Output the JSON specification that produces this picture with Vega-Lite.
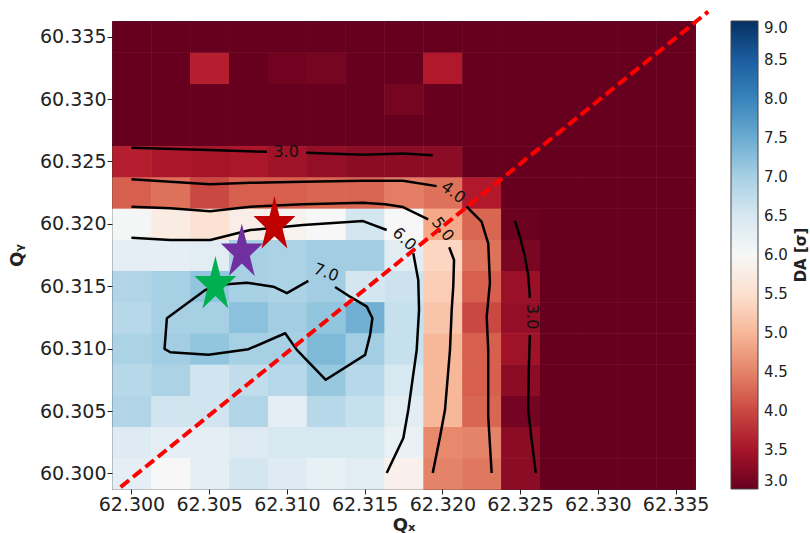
{
"$schema":"https://vega.github.io/schema/vega-lite/v6.json",
"width":583,"height":468,
"autosize":{"type":"none"},
"padding":{"left":112,"top":21,"right":115,"bottom":44},
"background":"white",
"config":{
 "view":{"stroke":"#333","strokeWidth":1},
 "font":"DejaVu Sans",
 "axis":{"grid":false,"domain":false,"tickColor":"#222","tickSize":5,"tickWidth":1,"labelFont":"DejaVu Sans","labelFontSize":19,"labelColor":"#222","labelPadding":1,"titleFont":"DejaVu Sans","titleFontSize":18,"titleFontWeight":"bold","titleColor":"#222","labelFlush":false,"labelOverlap":false}
},
"datasets":{
"grid":[
{"qx":62.3,"qy":60.335,"da":2.2},{"qx":62.3025,"qy":60.335,"da":2.2},{"qx":62.305,"qy":60.335,"da":2.2},{"qx":62.3075,"qy":60.335,"da":2.2},{"qx":62.31,"qy":60.335,"da":2.2},{"qx":62.3125,"qy":60.335,"da":2.2},{"qx":62.315,"qy":60.335,"da":2.2},{"qx":62.3175,"qy":60.335,"da":2.2},{"qx":62.32,"qy":60.335,"da":2.2},{"qx":62.3225,"qy":60.335,"da":2.2},{"qx":62.325,"qy":60.335,"da":2.2},{"qx":62.3275,"qy":60.335,"da":2.2},{"qx":62.33,"qy":60.335,"da":2.2},{"qx":62.3325,"qy":60.335,"da":2.2},{"qx":62.335,"qy":60.335,"da":2.2},
{"qx":62.3,"qy":60.3325,"da":2.2},{"qx":62.3025,"qy":60.3325,"da":2.2},{"qx":62.305,"qy":60.3325,"da":3.65},{"qx":62.3075,"qy":60.3325,"da":2.2},{"qx":62.31,"qy":60.3325,"da":3.08},{"qx":62.3125,"qy":60.3325,"da":3.12},{"qx":62.315,"qy":60.3325,"da":2.2},{"qx":62.3175,"qy":60.3325,"da":2.2},{"qx":62.32,"qy":60.3325,"da":3.6},{"qx":62.3225,"qy":60.3325,"da":2.2},{"qx":62.325,"qy":60.3325,"da":2.2},{"qx":62.3275,"qy":60.3325,"da":2.2},{"qx":62.33,"qy":60.3325,"da":2.2},{"qx":62.3325,"qy":60.3325,"da":2.2},{"qx":62.335,"qy":60.3325,"da":2.2},
{"qx":62.3,"qy":60.33,"da":2.2},{"qx":62.3025,"qy":60.33,"da":2.2},{"qx":62.305,"qy":60.33,"da":2.2},{"qx":62.3075,"qy":60.33,"da":2.2},{"qx":62.31,"qy":60.33,"da":2.2},{"qx":62.3125,"qy":60.33,"da":2.2},{"qx":62.315,"qy":60.33,"da":2.2},{"qx":62.3175,"qy":60.33,"da":3.12},{"qx":62.32,"qy":60.33,"da":2.2},{"qx":62.3225,"qy":60.33,"da":2.2},{"qx":62.325,"qy":60.33,"da":2.2},{"qx":62.3275,"qy":60.33,"da":2.2},{"qx":62.33,"qy":60.33,"da":2.2},{"qx":62.3325,"qy":60.33,"da":2.2},{"qx":62.335,"qy":60.33,"da":2.2},
{"qx":62.3,"qy":60.3275,"da":2.2},{"qx":62.3025,"qy":60.3275,"da":2.2},{"qx":62.305,"qy":60.3275,"da":2.2},{"qx":62.3075,"qy":60.3275,"da":2.2},{"qx":62.31,"qy":60.3275,"da":2.2},{"qx":62.3125,"qy":60.3275,"da":2.2},{"qx":62.315,"qy":60.3275,"da":2.2},{"qx":62.3175,"qy":60.3275,"da":2.2},{"qx":62.32,"qy":60.3275,"da":2.2},{"qx":62.3225,"qy":60.3275,"da":2.2},{"qx":62.325,"qy":60.3275,"da":2.2},{"qx":62.3275,"qy":60.3275,"da":2.2},{"qx":62.33,"qy":60.3275,"da":2.2},{"qx":62.3325,"qy":60.3275,"da":2.2},{"qx":62.335,"qy":60.3275,"da":2.2},
{"qx":62.3,"qy":60.325,"da":3.65},{"qx":62.3025,"qy":60.325,"da":3.55},{"qx":62.305,"qy":60.325,"da":3.5},{"qx":62.3075,"qy":60.325,"da":3.55},{"qx":62.31,"qy":60.325,"da":3.45},{"qx":62.3125,"qy":60.325,"da":3.35},{"qx":62.315,"qy":60.325,"da":3.3},{"qx":62.3175,"qy":60.325,"da":3.3},{"qx":62.32,"qy":60.325,"da":3.3},{"qx":62.3225,"qy":60.325,"da":2.2},{"qx":62.325,"qy":60.325,"da":2.2},{"qx":62.3275,"qy":60.325,"da":2.2},{"qx":62.33,"qy":60.325,"da":2.2},{"qx":62.3325,"qy":60.325,"da":2.2},{"qx":62.335,"qy":60.325,"da":2.2},
{"qx":62.3,"qy":60.3225,"da":4.2},{"qx":62.3025,"qy":60.3225,"da":4.35},{"qx":62.305,"qy":60.3225,"da":4.0},{"qx":62.3075,"qy":60.3225,"da":4.2},{"qx":62.31,"qy":60.3225,"da":4.2},{"qx":62.3125,"qy":60.3225,"da":4.25},{"qx":62.315,"qy":60.3225,"da":4.25},{"qx":62.3175,"qy":60.3225,"da":4.45},{"qx":62.32,"qy":60.3225,"da":4.35},{"qx":62.3225,"qy":60.3225,"da":3.6},{"qx":62.325,"qy":60.3225,"da":2.2},{"qx":62.3275,"qy":60.3225,"da":2.2},{"qx":62.33,"qy":60.3225,"da":2.2},{"qx":62.3325,"qy":60.3225,"da":2.2},{"qx":62.335,"qy":60.3225,"da":2.2},
{"qx":62.3,"qy":60.32,"da":6.05},{"qx":62.3025,"qy":60.32,"da":5.75},{"qx":62.305,"qy":60.32,"da":5.55},{"qx":62.3075,"qy":60.32,"da":5.8},{"qx":62.31,"qy":60.32,"da":5.9},{"qx":62.3125,"qy":60.32,"da":6.0},{"qx":62.315,"qy":60.32,"da":6.55},{"qx":62.3175,"qy":60.32,"da":6.0},{"qx":62.32,"qy":60.32,"da":4.85},{"qx":62.3225,"qy":60.32,"da":4.25},{"qx":62.325,"qy":60.32,"da":3.05},{"qx":62.3275,"qy":60.32,"da":2.2},{"qx":62.33,"qy":60.32,"da":2.2},{"qx":62.3325,"qy":60.32,"da":2.2},{"qx":62.335,"qy":60.32,"da":2.2},
{"qx":62.3,"qy":60.3175,"da":6.3},{"qx":62.3025,"qy":60.3175,"da":6.3},{"qx":62.305,"qy":60.3175,"da":6.35},{"qx":62.3075,"qy":60.3175,"da":7.0},{"qx":62.31,"qy":60.3175,"da":6.95},{"qx":62.3125,"qy":60.3175,"da":7.05},{"qx":62.315,"qy":60.3175,"da":7.05},{"qx":62.3175,"qy":60.3175,"da":6.35},{"qx":62.32,"qy":60.3175,"da":5.35},{"qx":62.3225,"qy":60.3175,"da":4.35},{"qx":62.325,"qy":60.3175,"da":3.15},{"qx":62.3275,"qy":60.3175,"da":2.2},{"qx":62.33,"qy":60.3175,"da":2.2},{"qx":62.3325,"qy":60.3175,"da":2.2},{"qx":62.335,"qy":60.3175,"da":2.2},
{"qx":62.3,"qy":60.315,"da":6.9},{"qx":62.3025,"qy":60.315,"da":7.0},{"qx":62.305,"qy":60.315,"da":7.2},{"qx":62.3075,"qy":60.315,"da":7.0},{"qx":62.31,"qy":60.315,"da":6.95},{"qx":62.3125,"qy":60.315,"da":7.05},{"qx":62.315,"qy":60.315,"da":6.55},{"qx":62.3175,"qy":60.315,"da":6.65},{"qx":62.32,"qy":60.315,"da":5.25},{"qx":62.3225,"qy":60.315,"da":4.2},{"qx":62.325,"qy":60.315,"da":3.4},{"qx":62.3275,"qy":60.315,"da":2.2},{"qx":62.33,"qy":60.315,"da":2.2},{"qx":62.3325,"qy":60.315,"da":2.2},{"qx":62.335,"qy":60.315,"da":2.2},
{"qx":62.3,"qy":60.3125,"da":6.85},{"qx":62.3025,"qy":60.3125,"da":7.0},{"qx":62.305,"qy":60.3125,"da":7.0},{"qx":62.3075,"qy":60.3125,"da":7.25},{"qx":62.31,"qy":60.3125,"da":7.05},{"qx":62.3125,"qy":60.3125,"da":7.2},{"qx":62.315,"qy":60.3125,"da":7.45},{"qx":62.3175,"qy":60.3125,"da":6.7},{"qx":62.32,"qy":60.3125,"da":5.15},{"qx":62.3225,"qy":60.3125,"da":4.0},{"qx":62.325,"qy":60.3125,"da":3.35},{"qx":62.3275,"qy":60.3125,"da":2.2},{"qx":62.33,"qy":60.3125,"da":2.2},{"qx":62.3325,"qy":60.3125,"da":2.2},{"qx":62.335,"qy":60.3125,"da":2.2},
{"qx":62.3,"qy":60.31,"da":6.95},{"qx":62.3025,"qy":60.31,"da":7.05},{"qx":62.305,"qy":60.31,"da":7.2},{"qx":62.3075,"qy":60.31,"da":7.0},{"qx":62.31,"qy":60.31,"da":7.0},{"qx":62.3125,"qy":60.31,"da":7.35},{"qx":62.315,"qy":60.31,"da":7.05},{"qx":62.3175,"qy":60.31,"da":6.7},{"qx":62.32,"qy":60.31,"da":5.0},{"qx":62.3225,"qy":60.31,"da":4.2},{"qx":62.325,"qy":60.31,"da":3.45},{"qx":62.3275,"qy":60.31,"da":2.2},{"qx":62.33,"qy":60.31,"da":2.2},{"qx":62.3325,"qy":60.31,"da":2.2},{"qx":62.335,"qy":60.31,"da":2.2},
{"qx":62.3,"qy":60.3075,"da":6.85},{"qx":62.3025,"qy":60.3075,"da":6.95},{"qx":62.305,"qy":60.3075,"da":6.6},{"qx":62.3075,"qy":60.3075,"da":6.75},{"qx":62.31,"qy":60.3075,"da":6.85},{"qx":62.3125,"qy":60.3075,"da":7.15},{"qx":62.315,"qy":60.3075,"da":6.85},{"qx":62.3175,"qy":60.3075,"da":6.5},{"qx":62.32,"qy":60.3075,"da":5.0},{"qx":62.3225,"qy":60.3075,"da":4.2},{"qx":62.325,"qy":60.3075,"da":3.3},{"qx":62.3275,"qy":60.3075,"da":2.2},{"qx":62.33,"qy":60.3075,"da":2.2},{"qx":62.3325,"qy":60.3075,"da":2.2},{"qx":62.335,"qy":60.3075,"da":2.2},
{"qx":62.3,"qy":60.305,"da":6.9},{"qx":62.3025,"qy":60.305,"da":6.6},{"qx":62.305,"qy":60.305,"da":6.6},{"qx":62.3075,"qy":60.305,"da":6.9},{"qx":62.31,"qy":60.305,"da":6.3},{"qx":62.3125,"qy":60.305,"da":6.85},{"qx":62.315,"qy":60.305,"da":6.7},{"qx":62.3175,"qy":60.305,"da":6.35},{"qx":62.32,"qy":60.305,"da":5.0},{"qx":62.3225,"qy":60.305,"da":4.25},{"qx":62.325,"qy":60.305,"da":3.1},{"qx":62.3275,"qy":60.305,"da":2.2},{"qx":62.33,"qy":60.305,"da":2.2},{"qx":62.3325,"qy":60.305,"da":2.2},{"qx":62.335,"qy":60.305,"da":2.2},
{"qx":62.3,"qy":60.3025,"da":6.4},{"qx":62.3025,"qy":60.3025,"da":6.3},{"qx":62.305,"qy":60.3025,"da":6.3},{"qx":62.3075,"qy":60.3025,"da":6.4},{"qx":62.31,"qy":60.3025,"da":6.5},{"qx":62.3125,"qy":60.3025,"da":6.5},{"qx":62.315,"qy":60.3025,"da":6.5},{"qx":62.3175,"qy":60.3025,"da":6.2},{"qx":62.32,"qy":60.3025,"da":4.55},{"qx":62.3225,"qy":60.3025,"da":4.5},{"qx":62.325,"qy":60.3025,"da":3.3},{"qx":62.3275,"qy":60.3025,"da":2.2},{"qx":62.33,"qy":60.3025,"da":2.2},{"qx":62.3325,"qy":60.3025,"da":2.2},{"qx":62.335,"qy":60.3025,"da":2.2},
{"qx":62.3,"qy":60.3,"da":6.3},{"qx":62.3025,"qy":60.3,"da":6.0},{"qx":62.305,"qy":60.3,"da":6.3},{"qx":62.3075,"qy":60.3,"da":6.55},{"qx":62.31,"qy":60.3,"da":6.4},{"qx":62.3125,"qy":60.3,"da":6.25},{"qx":62.315,"qy":60.3,"da":6.35},{"qx":62.3175,"qy":60.3,"da":5.85},{"qx":62.32,"qy":60.3,"da":4.5},{"qx":62.3225,"qy":60.3,"da":4.4},{"qx":62.325,"qy":60.3,"da":3.3},{"qx":62.3275,"qy":60.3,"da":2.2},{"qx":62.33,"qy":60.3,"da":2.2},{"qx":62.3325,"qy":60.3,"da":2.2},{"qx":62.335,"qy":60.3,"da":2.2}
],
"contours":[
{"seg":"3a","i":0,"qx":62.3,"qy":60.32609},{"seg":"3a","i":1,"qx":62.30442,"qy":60.32593},{"seg":"3a","i":2,"qx":62.30871,"qy":60.32577},
{"seg":"3b","i":0,"qx":62.31124,"qy":60.32569},{"seg":"3b","i":1,"qx":62.3149,"qy":60.32553},{"seg":"3b","i":2,"qx":62.31747,"qy":60.32564},{"seg":"3b","i":3,"qx":62.31938,"qy":60.3255},
{"seg":"4a","i":0,"qx":62.3,"qy":60.32356},{"seg":"4a","i":1,"qx":62.3025,"qy":60.32337},{"seg":"4a","i":2,"qx":62.30507,"qy":60.32316},{"seg":"4a","i":3,"qx":62.30764,"qy":60.32329},{"seg":"4a","i":4,"qx":62.31104,"qy":60.32337},{"seg":"4a","i":5,"qx":62.3149,"qy":60.32345},{"seg":"4a","i":6,"qx":62.31747,"qy":60.32345},{"seg":"4a","i":7,"qx":62.31963,"qy":60.32302},
{"seg":"4b","i":0,"qx":62.32156,"qy":60.32137},{"seg":"4b","i":1,"qx":62.32252,"qy":60.32017},{"seg":"4b","i":2,"qx":62.32295,"qy":60.31844},{"seg":"4b","i":3,"qx":62.32306,"qy":60.31526},{"seg":"4b","i":4,"qx":62.32285,"qy":60.31256},{"seg":"4b","i":5,"qx":62.32295,"qy":60.3099},{"seg":"4b","i":6,"qx":62.32295,"qy":60.30456},{"seg":"4b","i":7,"qx":62.32317,"qy":60.30003},
{"seg":"5a","i":0,"qx":62.3,"qy":60.32137},{"seg":"5a","i":1,"qx":62.3025,"qy":60.32124},{"seg":"5a","i":2,"qx":62.30507,"qy":60.321},{"seg":"5a","i":3,"qx":62.30764,"qy":60.32137},{"seg":"5a","i":4,"qx":62.31104,"qy":60.32156},{"seg":"5a","i":5,"qx":62.3149,"qy":60.32169},{"seg":"5a","i":6,"qx":62.31631,"qy":60.32156},{"seg":"5a","i":7,"qx":62.31747,"qy":60.32134},{"seg":"5a","i":8,"qx":62.31909,"qy":60.32036},
{"seg":"5b","i":0,"qx":62.32044,"qy":60.31812},{"seg":"5b","i":1,"qx":62.32075,"qy":60.3171},{"seg":"5b","i":2,"qx":62.3207,"qy":60.31494},{"seg":"5b","i":3,"qx":62.3206,"qy":60.3131},{"seg":"5b","i":4,"qx":62.32049,"qy":60.3099},{"seg":"5b","i":5,"qx":62.32017,"qy":60.3051},{"seg":"5b","i":6,"qx":62.31985,"qy":60.30294},{"seg":"5b","i":7,"qx":62.31938,"qy":60.30003},
{"seg":"6a","i":0,"qx":62.3,"qy":60.31888},{"seg":"6a","i":1,"qx":62.3025,"qy":60.3187},{"seg":"6a","i":2,"qx":62.30507,"qy":60.3187},{"seg":"6a","i":3,"qx":62.30764,"qy":60.3195},{"seg":"6a","i":4,"qx":62.31104,"qy":60.3199},{"seg":"6a","i":5,"qx":62.3149,"qy":60.32022},{"seg":"6a","i":6,"qx":62.31642,"qy":60.3195},
{"seg":"6b","i":0,"qx":62.31813,"qy":60.31764},{"seg":"6b","i":1,"qx":62.31845,"qy":60.3155},{"seg":"6b","i":2,"qx":62.3185,"qy":60.3131},{"seg":"6b","i":3,"qx":62.31835,"qy":60.3099},{"seg":"6b","i":4,"qx":62.31781,"qy":60.3051},{"seg":"6b","i":5,"qx":62.31749,"qy":60.30283},{"seg":"6b","i":6,"qx":62.31642,"qy":60.30003},
{"seg":"7","i":0,"qx":62.3131,"qy":60.31494},{"seg":"7","i":1,"qx":62.31406,"qy":60.31416},{"seg":"7","i":2,"qx":62.31514,"qy":60.31336},{"seg":"7","i":3,"qx":62.3155,"qy":60.31243},{"seg":"7","i":4,"qx":62.31535,"qy":60.3111},{"seg":"7","i":5,"qx":62.31503,"qy":60.3095},{"seg":"7","i":6,"qx":62.3125,"qy":60.3075},{"seg":"7","i":7,"qx":62.31064,"qy":60.3099},{"seg":"7","i":8,"qx":62.30989,"qy":60.31123},{"seg":"7","i":9,"qx":62.30753,"qy":60.30995},{"seg":"7","i":10,"qx":62.30496,"qy":60.3095},{"seg":"7","i":11,"qx":62.3025,"qy":60.30971},{"seg":"7","i":12,"qx":62.30213,"qy":60.30998},{"seg":"7","i":13,"qx":62.30228,"qy":60.31243},{"seg":"7","i":14,"qx":62.30475,"qy":60.3147},{"seg":"7","i":15,"qx":62.30614,"qy":60.31516},{"seg":"7","i":16,"qx":62.30742,"qy":60.31528},{"seg":"7","i":17,"qx":62.30913,"qy":60.31496},{"seg":"7","i":18,"qx":62.31,"qy":60.31444},{"seg":"7","i":19,"qx":62.31138,"qy":60.31542},
{"seg":"3c","i":0,"qx":62.32466,"qy":60.32025},{"seg":"3c","i":1,"qx":62.32499,"qy":60.31896},{"seg":"3c","i":2,"qx":62.32531,"qy":60.31736},{"seg":"3c","i":3,"qx":62.32552,"qy":60.3159},{"seg":"3c","i":4,"qx":62.32563,"qy":60.31406},
{"seg":"3d","i":0,"qx":62.32563,"qy":60.3111},{"seg":"3d","i":1,"qx":62.32556,"qy":60.3083},{"seg":"3d","i":2,"qx":62.32552,"qy":60.3051},{"seg":"3d","i":3,"qx":62.32574,"qy":60.3027},{"seg":"3d","i":4,"qx":62.32601,"qy":60.30003}
],
"clabels":[
{"id":"t3","label":"3.0","qx":62.30995,"qy":60.32577},
{"id":"t4","label":"4.0","qx":62.3207,"qy":60.32252},
{"id":"t5","label":"5.0","qx":62.32002,"qy":60.31956},
{"id":"t6","label":"6.0","qx":62.31755,"qy":60.31878},
{"id":"t7","label":"7.0","qx":62.31252,"qy":60.31608},
{"id":"t3r","label":"3.0","qx":62.32574,"qy":60.31256}
],
"diag":[{"qx":62.2993,"qy":60.2989},{"qx":62.3371,"qy":60.337}],
"stars":[{"star":"star 1","qx":62.3054,"qy":60.3151},{"star":"star 2","qx":62.3071,"qy":60.3177},{"star":"star 3","qx":62.3092,"qy":60.3199}]
},
"layer":[
{"data":{"name":"grid"},
 "mark":{"type":"rect"},
 "encoding":{
  "x":{"field":"qx","type":"quantitative","bin":{"step":0.0025,"anchor":62.29875,"extent":[62.29875,62.33625],"nice":false},"scale":{"domain":[62.29875,62.33625],"nice":false,"zero":false},"title":"Qₓ","axis":{"values":[62.3,62.305,62.31,62.315,62.32,62.325,62.33,62.335],"format":".3f","titlePadding":2}},
  "y":{"field":"qy","type":"quantitative","bin":{"step":0.0025,"anchor":60.29875,"extent":[60.29875,60.33625],"nice":false},"scale":{"domain":[60.29875,60.33625],"nice":false,"zero":false},"title":"Qᵧ","axis":{"values":[60.3,60.305,60.31,60.315,60.32,60.325,60.33,60.335],"format":".3f","titlePadding":13}},
  "color":{"field":"da","type":"quantitative","scale":{"domain":[3,3.6,4.2,4.8,5.4,6,6.6,7.2,7.8,8.4,9],"range":["#67001f","#b2182b","#d6604d","#f4a582","#fddbc7","#f7f7f7","#d1e5f0","#92c5de","#4393c3","#2166ac","#053061"],"clamp":true,"interpolate":"rgb"},
   "legend":{"title":"DA [σ]","type":"gradient","orient":"right","direction":"vertical","gradientLength":468,"gradientThickness":27,"offset":36,"padding":0,"values":[3,3.5,4,4.5,5,5.5,6,6.5,7,7.5,8,8.5,9],"format":".1f","labelFont":"DejaVu Sans","labelFontSize":15,"labelColor":"#222","labelOffset":6,"labelBaseline":"middle","labelOverlap":false,"titleOrient":"right","titleAnchor":"middle","titleFont":"DejaVu Sans","titleFontSize":15,"titleFontWeight":"bold","titleColor":"#222","titlePadding":6,"gradientStrokeColor":"#444","gradientStrokeWidth":1,"encode":{"title":{"update":{"angle":{"value":-90},"baseline":{"value":"top"},"align":{"value":"center"}}}}}}
 }},
{"data":{"name":"grid"},
 "mark":{"type":"rect"},
 "encoding":{
  "x":{"field":"qx","type":"quantitative","bin":{"step":0.0025,"anchor":62.29875,"extent":[62.29875,62.33625],"nice":false},"scale":{"domain":[62.29875,62.33625],"nice":false,"zero":false},"title":"Qₓ","axis":{"values":[62.3,62.305,62.31,62.315,62.32,62.325,62.33,62.335],"format":".3f","titlePadding":2}},
  "y":{"field":"qy","type":"quantitative","bin":{"step":0.0025,"anchor":60.29875,"extent":[60.29875,60.33625],"nice":false},"scale":{"domain":[60.29875,60.33625],"nice":false,"zero":false},"title":"Qᵧ","axis":{"values":[60.3,60.305,60.31,60.315,60.32,60.325,60.33,60.335],"format":".3f","titlePadding":13}},
  "color":{"field":"da","type":"quantitative","scale":{"domain":[3,3.6,4.2,4.8,5.4,6,6.6,7.2,7.8,8.4,9],"range":["#67001f","#b2182b","#d6604d","#f4a582","#fddbc7","#f7f7f7","#d1e5f0","#92c5de","#4393c3","#2166ac","#053061"],"clamp":true,"interpolate":"rgb"},
   "legend":{"title":"DA [σ]","type":"gradient","orient":"right","direction":"vertical","gradientLength":468,"gradientThickness":27,"offset":36,"padding":0,"values":[3,3.5,4,4.5,5,5.5,6,6.5,7,7.5,8,8.5,9],"format":".1f","labelFont":"DejaVu Sans","labelFontSize":15,"labelColor":"#222","labelOffset":6,"labelBaseline":"middle","labelOverlap":false,"titleOrient":"right","titleAnchor":"middle","titleFont":"DejaVu Sans","titleFontSize":15,"titleFontWeight":"bold","titleColor":"#222","titlePadding":6,"gradientStrokeColor":"#444","gradientStrokeWidth":1,"encode":{"title":{"update":{"angle":{"value":-90},"baseline":{"value":"top"},"align":{"value":"center"}}}}}}
 }},
{"data":{"name":"contours"},
 "mark":{"type":"line","color":"black","strokeWidth":2.5,"strokeJoin":"round"},
 "encoding":{
  "x":{"field":"qx","type":"quantitative","scale":{"domain":[62.29875,62.33625],"nice":false,"zero":false},"title":"Qₓ"},
  "y":{"field":"qy","type":"quantitative","scale":{"domain":[60.29875,60.33625],"nice":false,"zero":false},"title":"Qᵧ"},
  "detail":{"field":"seg","type":"nominal"},
  "order":{"field":"i","type":"quantitative"}
 }},
{"data":{"name":"clabels"},"transform":[{"filter":"datum.id === 't3'"}],
 "mark":{"type":"text","angle":0,"font":"DejaVu Sans","fontSize":16,"color":"#111","align":"center","baseline":"middle"},
 "encoding":{"x":{"field":"qx","type":"quantitative","title":"Qₓ"},"y":{"field":"qy","type":"quantitative","title":"Qᵧ"},"text":{"field":"label"}}},
{"data":{"name":"clabels"},"transform":[{"filter":"datum.id === 't4'"}],
 "mark":{"type":"text","angle":37,"font":"DejaVu Sans","fontSize":16,"color":"#111","align":"center","baseline":"middle"},
 "encoding":{"x":{"field":"qx","type":"quantitative","title":"Qₓ"},"y":{"field":"qy","type":"quantitative","title":"Qᵧ"},"text":{"field":"label"}}},
{"data":{"name":"clabels"},"transform":[{"filter":"datum.id === 't5'"}],
 "mark":{"type":"text","angle":52,"font":"DejaVu Sans","fontSize":16,"color":"#111","align":"center","baseline":"middle"},
 "encoding":{"x":{"field":"qx","type":"quantitative","title":"Qₓ"},"y":{"field":"qy","type":"quantitative","title":"Qᵧ"},"text":{"field":"label"}}},
{"data":{"name":"clabels"},"transform":[{"filter":"datum.id === 't6'"}],
 "mark":{"type":"text","angle":43,"font":"DejaVu Sans","fontSize":16,"color":"#111","align":"center","baseline":"middle"},
 "encoding":{"x":{"field":"qx","type":"quantitative","title":"Qₓ"},"y":{"field":"qy","type":"quantitative","title":"Qᵧ"},"text":{"field":"label"}}},
{"data":{"name":"clabels"},"transform":[{"filter":"datum.id === 't7'"}],
 "mark":{"type":"text","angle":20,"font":"DejaVu Sans","fontSize":16,"color":"#111","align":"center","baseline":"middle"},
 "encoding":{"x":{"field":"qx","type":"quantitative","title":"Qₓ"},"y":{"field":"qy","type":"quantitative","title":"Qᵧ"},"text":{"field":"label"}}},
{"data":{"name":"clabels"},"transform":[{"filter":"datum.id === 't3r'"}],
 "mark":{"type":"text","angle":90,"font":"DejaVu Sans","fontSize":16,"color":"#111","align":"center","baseline":"middle"},
 "encoding":{"x":{"field":"qx","type":"quantitative","title":"Qₓ"},"y":{"field":"qy","type":"quantitative","title":"Qᵧ"},"text":{"field":"label"}}},
{"data":{"name":"diag"},
 "mark":{"type":"line","color":"#ff0000","strokeWidth":4,"strokeDash":[11,5],"clip":false},
 "encoding":{"x":{"field":"qx","type":"quantitative","title":"Qₓ"},"y":{"field":"qy","type":"quantitative","title":"Qᵧ"}}},
{"data":{"name":"stars"},
 "mark":{"type":"point","shape":"M0,-1L0.171,-0.309L0.723,-0.309L0.276,0.118L0.447,0.809L0,0.382L-0.447,0.809L-0.276,0.118L-0.723,-0.309L-0.171,-0.309Z","size":3364,"filled":true,"opacity":1,"strokeWidth":0},
 "encoding":{"x":{"field":"qx","type":"quantitative","title":"Qₓ"},"y":{"field":"qy","type":"quantitative","title":"Qᵧ"},
  "fill":{"field":"star","type":"nominal","scale":{"domain":["star 1","star 2","star 3"],"range":["#00b050","#7030a0","#c00000"]},"legend":null}}}
]
}
